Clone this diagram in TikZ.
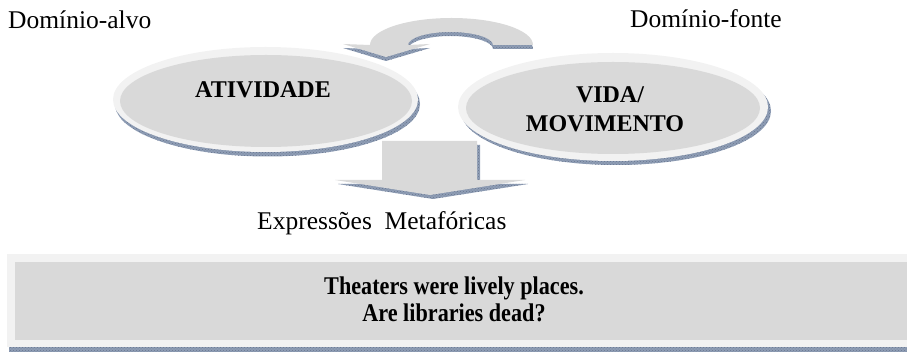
\documentclass[tikz,border=0pt]{standalone}
\usepackage{fontspec}
\setmainfont{Liberation Serif}
\usetikzlibrary{patterns}
\definecolor{rimgray}{HTML}{F2F2F2}
\definecolor{facegray}{HTML}{D9D9D9}
\definecolor{edgeblue}{HTML}{8E9DB5}
\definecolor{edgeline}{HTML}{2A3D5E}
\begin{document}
\begin{tikzpicture}[x=1pt,y=-1pt,
  edge/.style={fill=edgeblue, postaction={pattern=crosshatch dots, pattern color=edgeline!70}},
  rim/.style={fill=rimgray},
  face/.style={fill=facegray},
  label/.style={inner sep=0pt, font=\fontsize{25.5}{30}\selectfont},
  title/.style={inner sep=0pt, align=center, font=\fontsize{24}{29}\selectfont\bfseries}]
\useasboundingbox (0,0) rectangle (907,352);

% domain labels
\node[label, anchor=base west] (target) at (8,29) {Domínio-alvo};
\node[label, anchor=base west] (source) at (630,28) {Domínio-fonte};

% curved block arrow from the source domain back to the target domain
\def\curvedarrow{(533,45) arc[start angle=0, end angle=180, x radius=81.5pt, y radius=27pt]
  -- (343,44) -- (386,57) -- (430,44) -- (408,45)
  arc[start angle=180, end angle=0, x radius=42.5pt, y radius=13pt] -- cycle}
\begin{scope}[yshift=-4pt]
  \path[edge] \curvedarrow;
\end{scope}
\path[face] \curvedarrow;

% target domain ellipse
\fill[edge] (267.5,104) ellipse [x radius=152.5pt, y radius=52.5pt];
\fill[rim] (265.5,99.5) ellipse [x radius=152.5pt, y radius=52.5pt];
\fill[face] (266,101) ellipse [x radius=146pt, y radius=46pt];
\node[title, anchor=base] (ativ) at (263,98) {ATIVIDADE};

% source domain ellipse
\fill[edge] (616,111) ellipse [x radius=155pt, y radius=54pt];
\fill[rim] (613,107) ellipse [x radius=155pt, y radius=54pt];
\fill[face] (613,108) ellipse [x radius=147pt, y radius=46pt];
\node[title, anchor=base] (vida) at (610,103) {VIDA/};
\node[title, anchor=base] (movi) at (605,132) {MOVIMENTO};

% downward block arrow
\def\downarrow{(382,141) -- (477,141) -- (477,180) -- (525,180) -- (430,195) -- (335,180) -- (382,180) -- cycle}
\begin{scope}[xshift=3pt, yshift=-4pt]
  \path[edge] \downarrow;
\end{scope}
\path[face] \downarrow;

\node[label, anchor=base west] (expr) at (257,230) {Expressões\ \ Metafóricas};

% example box
\fill[edge] (9,347) rectangle (907,352);
\fill[rim] (7,254) rectangle (907,347);
\fill[face] (15,262) rectangle (907,340);
\node[inner sep=0pt, anchor=base] (line1) at (454,295)
  {\scalebox{0.87}[1]{\fontsize{25.5}{30}\selectfont\bfseries Theaters were lively places.}};
\node[inner sep=0pt, anchor=base] (line2) at (454,322)
  {\scalebox{0.87}[1]{\fontsize{25.5}{30}\selectfont\bfseries Are libraries dead?}};
\end{tikzpicture}
\end{document}
